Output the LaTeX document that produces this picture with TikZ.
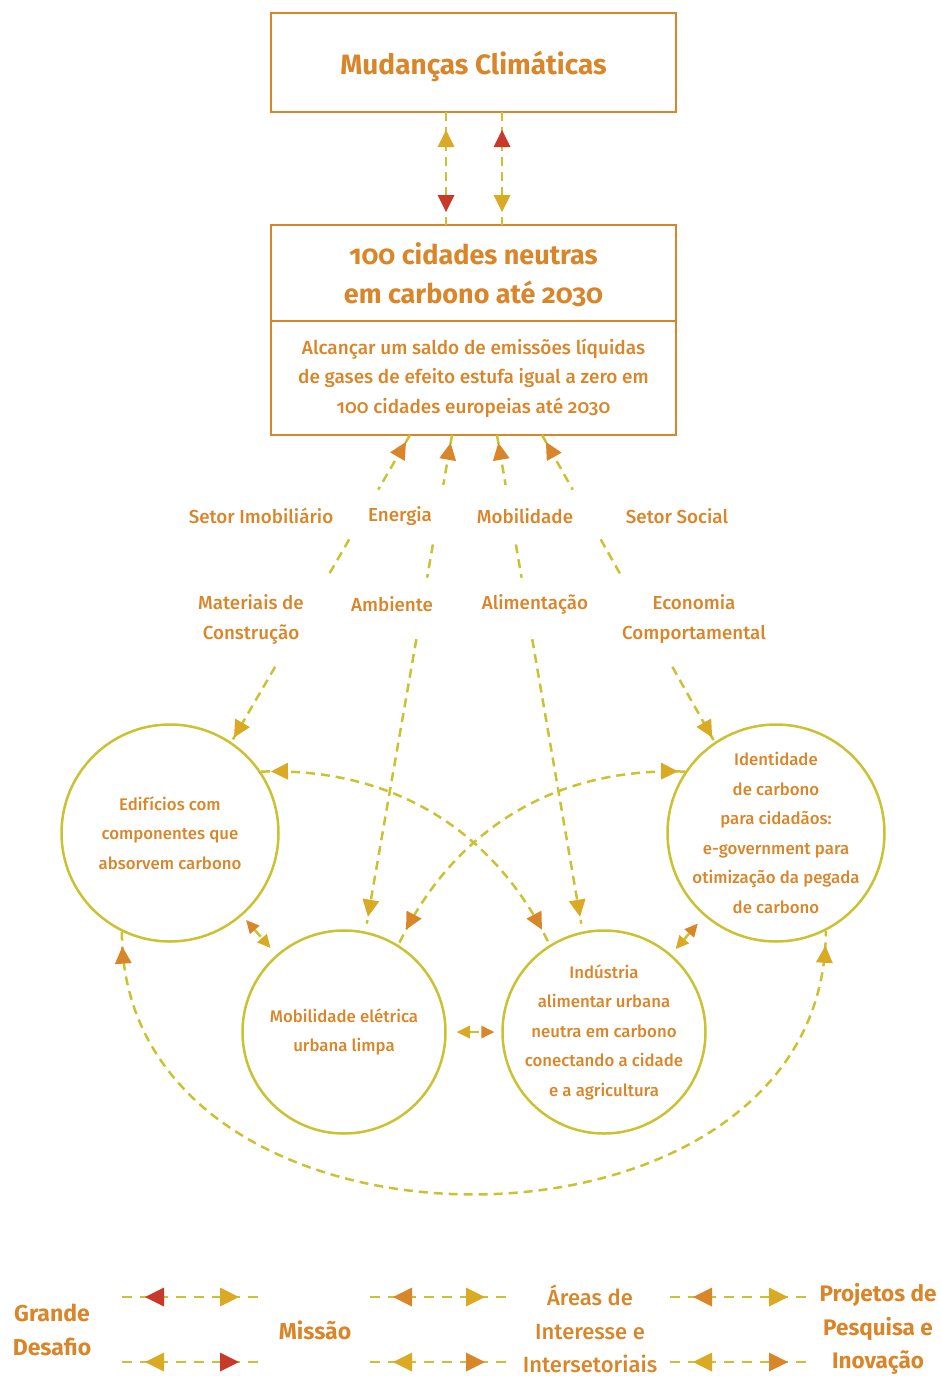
\documentclass[tikz,border=0pt]{standalone}
\usepackage{fontspec}
\IfFontExistsTF{Fira Sans Medium}
  {\setmainfont{Fira Sans Medium}[Numbers=OldStyle, BoldFont={Fira Sans Bold}]}
  {\setmainfont{Fira Sans}[Numbers=OldStyle]}
\usetikzlibrary{arrows.meta,decorations.markings,calc,positioning}
\definecolor{ink}{HTML}{D9862A}
\definecolor{linecol}{HTML}{CBC232}
\definecolor{tipgold}{HTML}{DAAA24}
\definecolor{tiporange}{HTML}{D9862A}
\definecolor{tipred}{HTML}{C8392A}

\begin{document}
\begin{tikzpicture}[x=1pt,y=-1pt,
  box/.style={draw=ink, line width=2pt, outer sep=0pt, minimum width=405pt, text=ink, align=center},
  city/.style={circle, draw=linecol, line width=2.5pt, inner sep=0pt},
  citytext/.style={text=ink, align=center, font=\fontsize{16.8}{29.5}\selectfont},
  area/.style={text=ink, align=center, font=\fontsize{18.8}{30}\selectfont},
  key/.style={text=ink, align=center, font=\fontsize{22}{33.5}\selectfont},
  link/.style={draw=linecol, line width=2.5pt, dash pattern=on 9pt off 6pt},
  keylink/.style={link, dash pattern=on 10pt off 8pt},
  rev/.style n args={3}{postaction={decorate,decoration={markings,
    mark=at position #1 with {\arrowreversed[color=#2,line width=0pt]{Triangle[length=#3,width=#3]}}}}},
  fwd/.style n args={3}{postaction={decorate,decoration={markings,
    mark=at position #1 with {\arrow[color=#2,line width=0pt]{Triangle[length=#3,width=#3]}}}}},
  pair/.style 2 args={link, arrows={Triangle[length=13pt,width=13pt,line width=0pt,color=#1]-Triangle[length=13pt,width=13pt,line width=0pt,color=#2]}}
]
\useasboundingbox (0,0) rectangle (941,1376);

\node[box, minimum height=99pt, text depth=0pt, font=\bfseries\fontsize{28}{39}\selectfont] (climate) at (473.5,62.5) {Mudanças Climáticas};
\node[box, minimum height=96pt, text depth=0pt, font=\bfseries\fontsize{27}{39}\selectfont] (mission) at (473.5,273) {100 cidades neutras\\em carbono até 2030};
\node[box, minimum height=114pt, below=0pt of mission, font=\fontsize{19}{29.5}\selectfont] (goal) {Alcançar um saldo de emissões líquidas\\de gases de efeito estufa igual a zero em\\100 cidades europeias até 2030};

\draw[link, rev={18pt}{tipgold}{17pt}, fwd={-13pt}{tipred}{17pt}] ([xshift=-27.5pt]climate.south) -- ([xshift=-27.5pt]mission.north);
\draw[link, rev={18pt}{tipred}{17pt}, fwd={-13pt}{tipgold}{17pt}] ([xshift=28.5pt]climate.south) -- ([xshift=28.5pt]mission.north);

\node[area] (imob) at (261,516) {Setor Imobiliário};
\node[area] (energ) at (400,516) {Energia};
\node[area] (mobil) at (525,516) {Mobilidade};
\node[area] (social) at (677,516) {Setor Social};
\node[area] (mater) at (251,619) {Materiais de\\Construção};
\node[area] (ambi) at (392,604) {Ambiente};
\node[area] (alim) at (535,604) {Alimentação};
\node[area] (econ) at (694,619) {Economia\\Comportamental};

\node[city, minimum size=217pt, label={[citytext]center:{Edifícios com\\componentes que\\absorvem carbono}}] (edif) at (170,833) {};
\node[city, minimum size=203pt, label={[citytext]center:{Mobilidade elétrica\\urbana limpa}}] (mob) at (344,1032) {};
\node[city, minimum size=203pt, label={[citytext]center:{Indústria\\alimentar urbana\\neutra em carbono\\conectando a cidade\\e a agricultura}}] (ind) at (604,1032) {};
\node[city, minimum size=217pt, label={[citytext]center:{Identidade\\de carbono\\para cidadãos:\\e-government para\\otimização da pegada\\de carbono}}] (ident) at (776,833) {};

\coordinate (b1) at ([xshift=-63.5pt]goal.south);
\coordinate (b2) at ([xshift=-21.5pt]goal.south);
\coordinate (b3) at ([xshift=23.5pt]goal.south);
\coordinate (b4) at ([xshift=68.5pt]goal.south);
\coordinate (c1) at (edif.56);
\coordinate (c2) at ($(mob.78)!8pt!(b2)$);
\coordinate (c3) at ($(ind.102)!8pt!(b3)$);
\coordinate (c4) at (ident.124);

\foreach \i/\p/\q/\r/\s/\e in {1/.178/.340/.464/.755/-5pt, 2/.102/.224/.292/.418/-7pt, 3/.102/.224/.292/.418/-7pt, 4/.178/.340/.464/.755/-5pt}{
  \draw[link, rev={8pt}{tiporange}{17pt}] (b\i) -- ($(b\i)!\p!(c\i)$);
  \draw[link] ($(b\i)!\q!(c\i)$) -- ($(b\i)!\r!(c\i)$);
  \draw[link, fwd={\e}{tipgold}{17pt}] ($(b\i)!\s!(c\i)$) -- (c\i);
}

\draw[link, rev={10pt}{tipgold}{17pt}, fwd={-17pt}{tiporange}{17pt}] (edif.34) .. controls +(140,-5) and +(-50,-106) .. (ind.122);
\draw[link, rev={7pt}{tipgold}{17pt}, fwd={-17pt}{tiporange}{17pt}] (ident.146) .. controls +(-140,-5) and +(50,-106) .. (mob.58);
\draw[link, rev={15pt}{tiporange}{17pt}, fwd={-15pt}{tipgold}{17pt}] (edif.-116) .. controls +(0,351) and +(0,351) .. (ident.-63);

\draw[pair={tiporange}{tipgold}, shorten <=6pt, shorten >=9pt] (edif) -- (mob);
\draw[pair={tipgold}{tiporange}, shorten <=10pt, shorten >=7pt] (mob) -- (ind);
\draw[pair={tipgold}{tiporange}, shorten <=7pt, shorten >=10pt] (ind) -- (ident);

\node[key, font=\bfseries\fontsize{23}{34}\selectfont] (grand) at (52,1330) {Grande\\Desafio};
\node[key, font=\bfseries\fontsize{23}{34}\selectfont] (missao) at (315,1330) {Missão};
\node[key] (areas) at (590,1329) {Áreas de\\Interesse e\\Intersetoriais};
\node[key, font=\bfseries\fontsize{22.5}{33.5}\selectfont] (proj) at (878,1329) {Projetos de\\Pesquisa e\\Inovação};

\foreach \n/\xa/\xb/\ca/\cb in {1/122/262/tipred/tipgold, 2/370/508/tiporange/tipgold, 3/670/811/tiporange/tipgold}{
  \coordinate (ka\n) at (\xa,1297);
  \coordinate (kb\n) at (\xb,1297);
  \coordinate (kc\n) at (\xa,1362);
  \coordinate (kd\n) at (\xb,1362);
  \draw[keylink, rev={23pt}{\ca}{19pt}, fwd={-23pt}{\cb}{19pt}] (ka\n) -- (kb\n);
  \draw[keylink, rev={23pt}{\cb}{19pt}, fwd={-23pt}{\ca}{19pt}] (kc\n) -- (kd\n);
}
\end{tikzpicture}
\end{document}
